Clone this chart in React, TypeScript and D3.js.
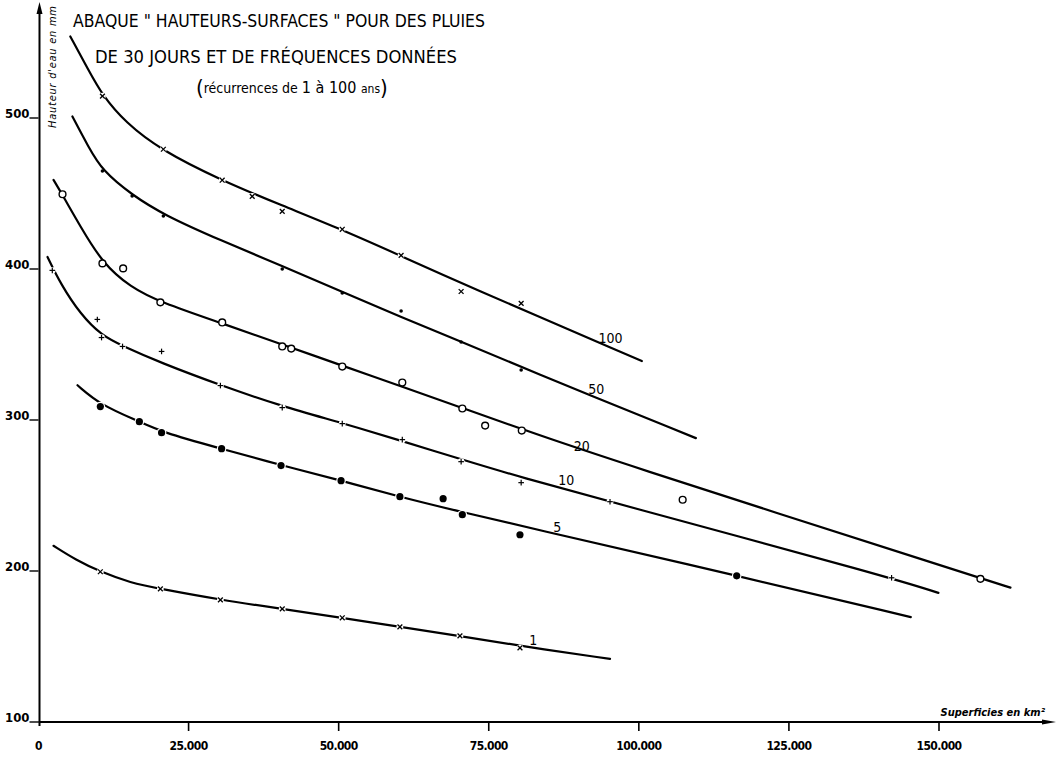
import * as d3 from 'd3';

const W = 1060;
const H = 767;

// axis ticks
const xTicks = [0, 25000, 50000, 75000, 100000, 125000, 150000];
const yTicks = [100, 200, 300, 400, 500];

// recurrence (years) of each curve
const curveNames = ['100', '50', '20', '10', '5', '1'];

// hand-drawn curves, [area km², height mm]
const line100: [number, number][] = [
  [5300, 554], [8300, 532], [10650, 515], [14500, 497], [20300, 479], [30300, 459],
  [40600, 442], [50600, 426], [60200, 409], [70200, 391], [100500, 339],
];
const line50: [number, number][] = [
  [5650, 501], [8300, 481], [10650, 465], [15600, 449], [20800, 436], [30300, 419],
  [40600, 402], [50600, 385], [60400, 368], [70400, 352], [80400, 335], [109500, 288],
];
const line20: [number, number][] = [
  [2500, 459], [4000, 449], [7000, 428], [10650, 404], [15300, 388], [20300, 378],
  [30600, 364], [40600, 350], [50600, 336], [60600, 322], [70600, 308], [80500, 294],
  [93500, 276], [156300, 196], [161900, 189],
];
const line10: [number, number][] = [
  [1500, 408], [3700, 390], [7000, 370], [10500, 356], [14000, 349], [20300, 338],
  [30300, 323], [40600, 309], [50600, 298], [60600, 286], [70400, 274], [80400, 262],
  [95200, 246], [142100, 195.5], [149900, 185.5],
];
const line5: [number, number][] = [
  [6500, 323], [10300, 310], [16800, 299], [20500, 292], [30500, 281], [40400, 270],
  [50400, 260], [60200, 249], [70600, 239], [80200, 230], [116300, 197], [145300, 169.5],
];
const line1: [number, number][] = [
  [2500, 216.7], [6200, 207.4], [10300, 199.5], [15300, 192.2], [20300, 188.2], [30300, 180.9],
  [40600, 174.9], [50600, 169], [60200, 163], [70200, 157], [80200, 150.4], [95200, 141.8],
];

// observed points
const pts100: [number, number][] = [
  [10650, 514.5], [20800, 479.3], [30600, 458.8], [35600, 448.1], [40600, 438.2],
  [50600, 426.3], [60400, 409], [70400, 385.1], [80400, 377.2],
];
const pts50: [number, number][] = [
  [10650, 464.9], [15600, 448.3], [20800, 435.1], [40600, 400], [50600, 384.1],
  [60400, 372.2], [70400, 351.7], [80400, 333.1],
];
const pts20: [number, number][] = [
  [4000, 449.5], [10650, 403.7], [14100, 400.4], [20300, 377.9], [30600, 364.6],
  [40600, 348.7], [42100, 347.3], [50600, 335.4], [60600, 324.8], [70600, 307.6],
  [74400, 296.3], [80500, 293], [107300, 247.2], [156900, 194.8],
];
const pts10: [number, number][] = [
  [2300, 399.1], [9800, 366.6], [10500, 354.6], [14000, 348.7], [20500, 345.4],
  [30300, 322.8], [40600, 308.2], [50600, 297.6], [60600, 287], [70400, 272.4],
  [80400, 258.5], [95200, 245.9], [142100, 195.5],
];
const pts5: [number, number][] = [
  [10300, 308.9], [16800, 298.9], [20500, 291.6], [30500, 281], [40400, 269.8],
  [50400, 259.8], [60200, 249.2], [67400, 247.9], [70600, 237.3], [80200, 224], [116300, 196.8],
];
const pts1: [number, number][] = [
  [10300, 199.5], [20300, 188.2], [30300, 180.9], [40600, 174.9], [50600, 169],
  [60200, 163], [70200, 157], [80200, 149.1],
];

const curveLines = [line100, line50, line20, line10, line5, line1];
const curvePoints = [pts100, pts50, pts20, pts10, pts5, pts1];
const markerKinds = ['cross', 'dot', 'ring', 'plus', 'disc', 'cross'];

// where the curve numbers sit
const labelArea = [95300, 92900, 90500, 87900, 86400, 82400];
const labelHeight = [354.3, 320.5, 282.8, 260.3, 229.1, 154.3];

const x = d3.scaleLinear().domain([0, 150000]).range([38.5, 939]);
const y = d3.scaleLinear().domain([100, 500]).range([722, 118]);

const fmt = d3.formatLocale({ decimal: ',', thousands: '.', grouping: [3], currency: ['', ''] }).format(',d');

const lineGen = d3.line<[number, number]>()
  .x((d) => x(d[0]))
  .y((d) => y(d[1]))
  .curve(d3.curveBasis);

const FONT = '"DejaVu Sans Condensed", "DejaVu Sans", sans-serif';

function Marker({ kind, cx, cy }: { kind: string; cx: number; cy: number }) {
  if (kind === 'ring') {
    return <circle cx={cx} cy={cy} r={3.4} fill="#fff" stroke="#000" strokeWidth={1.4} />;
  }
  if (kind === 'disc') {
    return (
      <g>
        <circle cx={cx} cy={cy} r={4.8} fill="#fff" />
        <circle cx={cx} cy={cy} r={3.6} fill="#000" />
      </g>
    );
  }
  if (kind === 'dot') {
    return <circle cx={cx} cy={cy} r={1.8} fill="#000" />;
  }
  const s = kind === 'cross' ? 2.4 : 2.8;
  return (
    <g>
      <circle cx={cx} cy={cy} r={3.4} fill="#fff" stroke="none" />
      {kind === 'cross' ? (
        <g stroke="#000" strokeWidth={1.3}>
          <line x1={cx - s} y1={cy - s} x2={cx + s} y2={cy + s} />
          <line x1={cx - s} y1={cy + s} x2={cx + s} y2={cy - s} />
        </g>
      ) : (
        <g stroke="#000" strokeWidth={1.2}>
          <line x1={cx - s} y1={cy} x2={cx + s} y2={cy} />
          <line x1={cx} y1={cy - s} x2={cx} y2={cy + s} />
        </g>
      )}
    </g>
  );
}

export default function App() {
  const x0 = x(0);
  const yBase = y(100);

  return (
    <div style={{ position: 'fixed', left: 0, top: 0, background: '#fff' }}>
      <svg width={W} height={H} viewBox={`0 0 ${W} ${H}`} style={{ display: 'block' }}>
        <rect width={W} height={H} fill="#fff" />

        {/* curves */}
        {curveLines.map((pts, i) => (
          <path key={curveNames[i]} d={lineGen(pts) || ''} fill="none" stroke="#000" strokeWidth={2.2} strokeLinecap="round" />
        ))}

        {/* observed points */}
        {curvePoints.map((pts, i) =>
          pts.map((p, j) => (
            <Marker key={`${i}-${j}`} kind={markerKinds[i]} cx={x(p[0])} cy={y(p[1])} />
          ))
        )}

        {/* curve numbers */}
        {curveNames.map((name, i) => (
          <text
            key={`lab-${name}`}
            x={x(labelArea[i])}
            y={y(labelHeight[i])}
            dy="0.35em"
            textAnchor="middle"
            fontFamily={FONT}
            fontSize={14}
            fill="#000"
          >
            {name}
          </text>
        ))}

        {/* axes */}
        <line x1={x0 + 1} y1={yBase + 4} x2={x0 + 1} y2={8} stroke="#000" strokeWidth={2} />
        <path d={`M${x0 + 1},2 L${x0 - 2},14 L${x0 + 4},14 Z`} fill="#000" />
        <line x1={x0} y1={yBase} x2={1046} y2={yBase} stroke="#000" strokeWidth={2} />
        <path d={`M1056,${yBase} L1042,${yBase - 2.5} L1042,${yBase + 2.5} Z`} fill="#000" />

        {yTicks.map((t) => (
          <g key={`y${t}`}>
            <line x1={x0 - 9} y1={y(t)} x2={x0} y2={y(t)} stroke="#000" strokeWidth={1.4} />
            <text
              x={x0 - 9}
              y={y(t)}
              textAnchor="end"
              fontFamily={FONT}
              fontWeight="bold"
              fontSize={13}
              fill="#000"
            >
              {t}
            </text>
          </g>
        ))}

        {xTicks.map((t) => (
          <g key={`x${t}`}>
            {t > 0 && <line x1={x(t)} y1={yBase} x2={x(t)} y2={yBase + 9} stroke="#000" strokeWidth={1.6} />}
            <text
              x={x(t)}
              y={yBase + 28}
              textAnchor="middle"
              fontFamily={FONT}
              fontWeight="bold"
              fontSize={12}
              letterSpacing={-0.6}
              fill="#000"
            >
              {fmt(t)}
            </text>
          </g>
        ))}

        {/* axis titles */}
        <text
          x={1045}
          y={yBase - 6}
          textAnchor="end"
          fontFamily={FONT}
          fontStyle="italic"
          fontWeight="bold"
          fontSize={11}
          fill="#000"
        >
          Superficies en km²
        </text>
        <text
          transform={`translate(${x0 + 17},128) rotate(-90)`}
          fontFamily={FONT}
          fontStyle="italic"
          fontSize={11}
          textLength={122}
          fill="#000"
        >
          Hauteur d'eau en mm
        </text>

        {/* title */}
        <text x={73} y={27} fontFamily={FONT} fontSize={17} textLength={412} lengthAdjust="spacingAndGlyphs" fill="#000">
          ABAQUE " HAUTEURS-SURFACES " POUR DES PLUIES
        </text>
        <text x={95} y={63} fontFamily={FONT} fontSize={17} textLength={362} lengthAdjust="spacingAndGlyphs" fill="#000">
          DE 30 JOURS ET DE FRÉQUENCES DONNÉES
        </text>
        <text x={196} y={93} fontFamily={FONT} fontSize={14} fill="#000">
          <tspan fontSize={22} dy={2}>(</tspan>
          <tspan dy={-2}>récurrences de </tspan>
          <tspan fontSize={16}>1 à 100 </tspan>
          <tspan fontSize={12}>ans</tspan>
          <tspan fontSize={22} dy={2}>)</tspan>
        </text>
      </svg>
    </div>
  );
}
